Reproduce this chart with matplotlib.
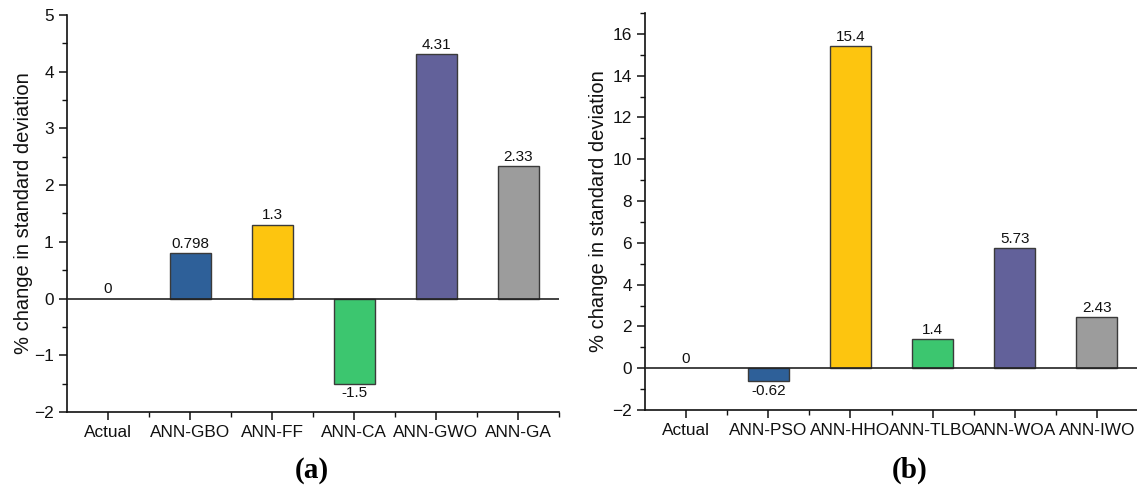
import matplotlib
matplotlib.use("Agg")
import matplotlib.pyplot as plt
from matplotlib.ticker import MultipleLocator, FixedLocator

plt.rcParams['font.family'] = ['Liberation Sans', 'DejaVu Sans']

# ---- data ----
cats_a = ["Actual", "ANN-GBO", "ANN-FF", "ANN-CA", "ANN-GWO", "ANN-GA"]
vals_a = [0, 0.798, 1.3, -1.5, 4.31, 2.33]
labels_a = ["0", "0.798", "1.3", "-1.5", "4.31", "2.33"]

cats_b = ["Actual", "ANN-PSO", "ANN-HHO", "ANN-TLBO", "ANN-WOA", "ANN-IWO"]
vals_b = [0, -0.62, 15.4, 1.4, 5.73, 2.43]
labels_b = ["0", "-0.62", "15.4", "1.4", "5.73", "2.43"]

colors = ["#ffffff", "#2e6099", "#fdc50f", "#3cc66f", "#62619a", "#9c9c9c"]
ylabel = "% change in standard deviation"

W, H = 1137, 486
fig = plt.figure(figsize=(W / 100, H / 100), dpi=100)

def px_axes(x0, y0, x1, y1):
    return fig.add_axes([x0 / W, 1 - y1 / H, (x1 - x0) / W, (y1 - y0) / H])

ax_a = px_axes(67, 15, 559, 412)
ax_b = px_axes(645, 13, 1138, 410)

def draw(ax, cats, vals, labels, ylim, major, minor, lab_x):
    x = list(range(len(cats)))
    for i, (v, c) in enumerate(zip(vals, colors)):
        if v != 0:
            ax.bar(i, v, width=0.5, color=c, edgecolor="#3a3a3a", linewidth=1.0, zorder=3)
    ax.axhline(0, color="#222222", lw=1.2, zorder=4)
    span = ylim[1] - ylim[0]
    for i, (v, t) in enumerate(zip(vals, labels)):
        if v < 0:
            ax.text(i, v - span * 0.006, t, ha="center", va="top", fontsize=11, color="#111111")
        else:
            ax.text(i, v + span * 0.006, t, ha="center", va="bottom", fontsize=11, color="#111111")
    ax.set_xlim(-0.5, len(cats) - 0.5)
    ax.set_ylim(*ylim)
    ax.set_xticks(x)
    ax.set_xticklabels(cats, fontsize=12.4, color="#111111")
    ax.xaxis.set_minor_locator(FixedLocator([i + 0.5 for i in range(len(cats))]))
    ax.yaxis.set_major_locator(MultipleLocator(major))
    ax.yaxis.set_minor_locator(MultipleLocator(minor))
    ax.tick_params(axis="y", labelsize=12.4, labelcolor="#111111")
    ax.tick_params(which="major", length=6, width=1.1, direction="out", color="#111111")
    ax.tick_params(which="minor", length=3.5, width=1.0, direction="out", color="#111111")
    for s in ("top", "right"):
        ax.spines[s].set_visible(False)
    for s in ("left", "bottom"):
        ax.spines[s].set_linewidth(1.2)
        ax.spines[s].set_color("#111111")
    ax.set_ylabel(ylabel, fontsize=14.5, color="#111111")
    ax.yaxis.set_label_coords(lab_x, 0.5)

draw(ax_a, cats_a, vals_a, labels_a, (-2, 5), 1, 0.5, -0.069)
ax_a.set_yticks([-2, -1, 0, 1, 2, 3, 4, 5])
draw(ax_b, cats_b, vals_b, labels_b, (-2, 17), 2, 1, -0.075)
ax_b.set_yticks([-2, 0, 2, 4, 6, 8, 10, 12, 14, 16])

fig.text(312 / W, 1 - 470 / H, "(a)", ha="center", va="center", fontsize=21,
         fontweight="bold", family=["Liberation Serif", "DejaVu Serif"])
fig.text(910 / W, 1 - 470 / H, "(b)", ha="center", va="center", fontsize=21,
         fontweight="bold", family=["Liberation Serif", "DejaVu Serif"])

fig.savefig("out.png", dpi=100)
